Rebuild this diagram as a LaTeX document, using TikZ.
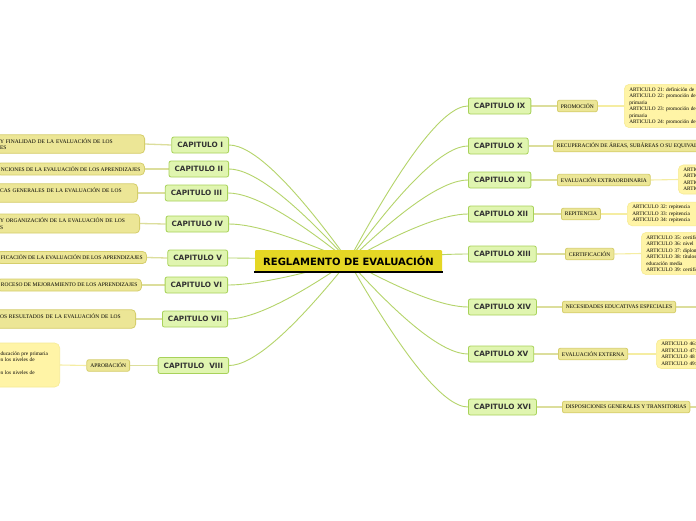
\documentclass[tikz,border=0pt]{standalone}
\usepackage{fontspec}
\newfontfamily\capfont{DejaVu Sans}
\newfontfamily\smallserif{Liberation Serif}
\usetikzlibrary{calc}
\pgfdeclarelayer{bg}
\pgfsetlayers{bg,main}
\definecolor{rootfill}{HTML}{E5D724}
\definecolor{chfill}{HTML}{E0F5B0}
\definecolor{chdraw}{HTML}{A8D25A}
\definecolor{subfill}{HTML}{ECE696}
\definecolor{subdraw}{HTML}{D5CE6C}
\definecolor{artfill}{HTML}{FFF4A6}
\definecolor{artdraw}{HTML}{F6EB95}
\definecolor{mainline}{HTML}{B5D46A}
\definecolor{subline}{HTML}{DCDE9C}
\definecolor{artline}{HTML}{F5EDA2}
\definecolor{chtext}{HTML}{333333}
\frenchspacing
\begin{document}
\begin{tikzpicture}[x=1pt,y=-1pt,
  root/.style={fill=rootfill, rounded corners=1pt, font=\capfont\bfseries\fontsize{10}{12}\selectfont,
    minimum width=187pt, minimum height=22pt, inner sep=0pt},
  chap/.style={draw=chdraw, line width=0.8pt, fill=chfill, rounded corners=2pt,
    font=\capfont\bfseries\fontsize{7.3}{8}\selectfont, text=chtext, minimum height=16pt,
    inner xsep=5.5pt, inner ysep=0pt},
  sub/.style={draw=subdraw, line width=0.8pt, fill=subfill, rounded corners=2pt,
    font=\smallserif\fontsize{5.5}{6.5}\selectfont, minimum height=11.5pt,
    inner xsep=3.5pt, inner ysep=0pt},
  lbox/.style={draw=subdraw, line width=0.8pt, fill=subfill, rounded corners=4pt, align=left,
    inner xsep=4pt, inner ysep=2.5pt, font=\smallserif\fontsize{5.5}{6.5}\selectfont},
  art/.style={draw=artdraw, line width=0.6pt, fill=artfill, rounded corners=5pt, align=left,
    text width=120pt, inner xsep=5pt, inner ysep=3pt,
    font=\smallserif\fontsize{5.3}{6.5}\selectfont},
  mm/.style={draw=mainline, line width=0.9pt},
  sl/.style={draw=subline, line width=1.3pt},
  al/.style={draw=artline, line width=1.1pt}]
\useasboundingbox (0,0) rectangle (696,520);
\clip (0,0) rectangle (696,520);

% root
\node[root] (root) at (348.5,261) {REGLAMENTO DE EVALUACIÓN};
\draw[line width=1.5pt, black] ([xshift=-1pt]root.south west) -- ([xshift=1pt]root.south east);

% chapters left
\node[chap, anchor=east] (c1) at (229,145) {CAPITULO I};
\node[chap, anchor=east] (c2) at (229,169) {CAPITULO II};
\node[chap, anchor=east] (c3) at (228,193) {CAPITULO III};
\node[chap, anchor=east] (c4) at (229,224) {CAPITULO IV};
\node[chap, anchor=east] (c5) at (228,258) {CAPITULO V};
\node[chap, anchor=east] (c6) at (228,285) {CAPITULO VI};
\node[chap, anchor=east] (c7) at (228,319) {CAPITULO VII};
\node[chap, anchor=east] (c8) at (229,365.5) {CAPITULO\ \ VIII};
% chapters right
\node[chap, anchor=west] (c9) at (468,106) {CAPITULO IX};
\node[chap, anchor=west] (c10) at (468,146) {CAPITULO X};
\node[chap, anchor=west] (c11) at (468,180) {CAPITULO XI};
\node[chap, anchor=west] (c12) at (468,214) {CAPITULO XII};
\node[chap, anchor=west] (c13) at (468,254) {CAPITULO XIII};
\node[chap, anchor=west] (c14) at (468,307) {CAPITULO XIV};
\node[chap, anchor=west] (c15) at (468,354) {CAPITULO XV};
\node[chap, anchor=west] (c16) at (468,407) {CAPITULO XVI};

% left boxes
\node[lbox, anchor=east, text width=140.5pt, minimum height=18.5pt] (b1) at (145,144) {Y FINALIDAD DE LA EVALUACIÓN DE LOS\\ES};
\node[lbox, anchor=west, minimum height=12pt] (b2) at (-3.5,169) {NCIONES DE LA EVALUACIÓN DE LOS APRENDIZAJES};
\node[lbox, anchor=east, text width=133.5pt, minimum height=18.5pt] (b3) at (138,193) {CAS GENERALES DE LA EVALUACIÓN DE LOS\\\mbox{}};
\node[lbox, anchor=east, text width=135.5pt, minimum height=19pt] (b4) at (140,223.5) {Y ORGANIZACIÓN DE LA EVALUACIÓN DE LOS\\S};
\node[lbox, anchor=west, minimum height=12pt] (b5) at (-3.5,257.5) {FICACIÓN DE LA EVALUACIÓN DE LOS APRENDIZAJES};
\node[lbox, anchor=west, minimum height=12pt] (b6) at (-3.5,285) {ROCESO DE MEJORAMIENTO DE LOS APRENDIZAJES};
\node[lbox, anchor=east, text width=131.5pt, minimum height=18.5pt] (b7) at (136,319) {OS RESULTADOS DE LA EVALUACIÓN DE LOS\\\mbox{}};
\node[sub, anchor=east] (s8) at (130,365.5) {APROBACIÓN};
\node[art, anchor=east, text width=56.5pt, minimum height=44pt] (b8) at (60,365) {\mbox{}\\educación pre primaria\\en los niveles de\\\mbox{}\\en los niveles de\\\mbox{}};

% right sub nodes
\node[sub, anchor=west] (s9) at (557,106) {PROMOCIÓN};
\node[sub, anchor=west] (s10) at (553,146) {RECUPERACIÓN DE ÁREAS, SUBÁREAS O SU EQUIVALENTE};
\node[sub, anchor=west] (s11) at (557,180) {EVALUACIÓN EXTRAORDINARIA};
\node[sub, anchor=west] (s12) at (561,214) {REPITENCIA};
\node[sub, anchor=west] (s13) at (565,254) {CERTIFICACIÓN};
\node[sub, anchor=west] (s14) at (562,307) {NECESIDADES EDUCATIVAS ESPECIALES};
\node[sub, anchor=west] (s15) at (558,354) {EVALUACIÓN EXTERNA};
\node[sub, anchor=west] (s16) at (562,407) {DISPOSICIONES GENERALES Y TRANSITORIAS};
\coordinate (e14) at (700,307);
\coordinate (e16) at (700,407);

% article boxes
\node[art, anchor=west] (a9) at (624,106) {ARTICULO 21: definición de\\ARTICULO 22: promoción de\\primaria\\ARTICULO 23: promoción de\\primaria\\ARTICULO 24: promoción de};
\node[art, anchor=west] (a11) at (678,179.5) {ARTICULO\\ARTICULO\\ARTICULO\\ARTICULO};
\node[art, anchor=west] (a12) at (627,214) {ARTICULO 32: repitencia\\ARTICULO 33: repitencia\\ARTICULO 34: repitencia};
\node[art, anchor=west] (a13) at (641,253.5) {ARTICULO 35: certificación\\ARTICULO 36: nivel\\ARTICULO 37: diploma\\ARTICULO 38: títulos\\educación media\\ARTICULO 39: certificación};
\node[art, anchor=west] (a15) at (656,354) {ARTICULO 46:\\ARTICULO 47:\\ARTICULO 48\\ARTICULO 49:};

\begin{pgfonlayer}{bg}
\fill[white] (0,0) rectangle (696,520);
\foreach \i in {1,...,8}{
  \draw[mm] let \p1=(root.center), \p2=(c\i.east) in
    (\p1) .. controls ({\x1+0.4667*(\x2-\x1)},{\y1+0.6667*(\y2-\y1)}) and ({\x2+0.2*(\x1-\x2)},\y2) .. (\p2);
}
\foreach \i in {9,...,16}{
  \draw[mm] let \p1=(root.center), \p2=(c\i.west) in
    (\p1) .. controls ({\x1+0.4667*(\x2-\x1)},{\y1+0.6667*(\y2-\y1)}) and ({\x2+0.2*(\x1-\x2)},\y2) .. (\p2);
}
\foreach \i in {1,...,7}{ \draw[sl] (b\i.east) -- (c\i.west); }
\draw[sl] (s8.east) -- (c8.west);
\draw[al] (b8.east) -- (s8.west);
\foreach \i in {9,...,16}{ \draw[sl] (c\i.east) -- (s\i.west); }
\draw[al] (s9.east) -- (a9.west);
\draw[al] (s11.east) -- (a11.west);
\draw[al] (s12.east) -- (a12.west);
\draw[al] (s13.east) -- (a13.west);
\draw[al] (s15.east) -- (a15.west);
\draw[sl] (s14.east) -- (e14);
\draw[sl] (s16.east) -- (e16);
\end{pgfonlayer}
\end{tikzpicture}
\end{document}
